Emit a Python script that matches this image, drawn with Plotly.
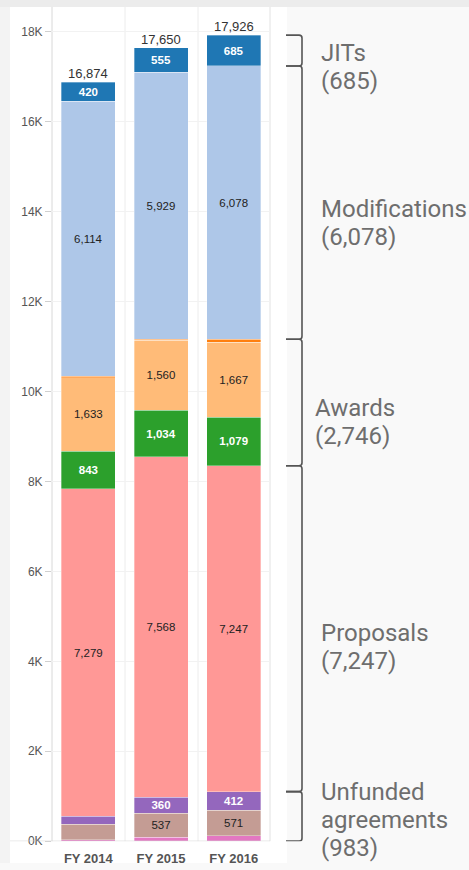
import plotly.graph_objects as go

W, H = 469, 870

years = ["FY 2014", "FY 2015", "FY 2016"]

# Stacked segments, listed bottom to top
other_pink = [30, 82, 120]
unfunded_brown = [345, 537, 571]
unfunded_purple = [180, 360, 412]
proposals = [7279, 7568, 7247]
awards_green = [843, 1034, 1079]
awards_orange = [1633, 1560, 1667]
mods_orange = [30, 25, 67]
modifications = [6114, 5929, 6078]
jits = [420, 555, 685]

y_ticks = [0, 2000, 4000, 6000, 8000, 10000, 12000, 14000, 16000, 18000]
y_tick_labels = ["0K", "2K", "4K", "6K", "8K", "10K", "12K", "14K", "16K", "18K"]

series = [
    # name, values, colour, label shown per year, label colour, bold
    ("Other", other_pink, "#e377c2", [False, False, False], "#222", False),
    ("Unfunded (b)", unfunded_brown, "#c49c94", [False, True, True], "#222", False),
    ("Unfunded (a)", unfunded_purple, "#9467bd", [False, True, True], "#ffffff", True),
    ("Proposals", proposals, "#ff9896", [True, True, True], "#222", False),
    ("Awards (a)", awards_green, "#2ca02c", [True, True, True], "#ffffff", True),
    ("Awards (b)", awards_orange, "#ffbb78", [True, True, True], "#222", False),
    ("Modifications (other)", mods_orange, "#ff7f0e", [False, False, False], "#222", False),
    ("Modifications", modifications, "#aec7e8", [True, True, True], "#222", False),
    ("JITs", jits, "#1f77b4", [True, True, True], "#ffffff", True),
]

BAR_FONT = "Liberation Sans, Arial, sans-serif"

fig = go.Figure()
for name, vals, color, show, tcolor, bold in series:
    fig.add_trace(go.Bar(
        name=name,
        x=years,
        y=vals,
        marker=dict(color=color, line=dict(width=0.6, color="rgba(255,255,255,0.55)")),
        width=0.743,
        text=[f"{v:,}" if s else "" for v, s in zip(vals, show)],
        textposition="inside",
        insidetextanchor="middle",
        textangle=0,
        constraintext="none",
        textfont=dict(family=BAR_FONT, size=11.5, color=tcolor,
                      weight="bold" if bold else "normal"),
        hoverinfo="skip",
    ))

totals = [sum(s[1][i] for s in series) for i in range(len(years))]

annotations = []
for yr, tot in zip(years, totals):
    annotations.append(dict(
        x=yr, y=tot, xref="x", yref="y", text=f"{tot:,}", showarrow=False,
        yanchor="bottom", yshift=-1,
        font=dict(family=BAR_FONT, size=13, color="#333"),
    ))

# Group brackets on the right, built from the latest year's stack
i = 2
lvl_unf = other_pink[i] + unfunded_brown[i] + unfunded_purple[i]
lvl_prop = lvl_unf + proposals[i]
lvl_awd = lvl_prop + awards_green[i] + awards_orange[i] + mods_orange[i]
lvl_mod = lvl_awd + modifications[i]
lvl_jit = lvl_mod + jits[i]

# text lines, bracket bounds, label x (px), first-line offset below bracket middle (px)
groups = [
    (["JITs", f"({jits[i]:,})"], lvl_mod, lvl_jit, 319, 2),
    (["Modifications", f"({modifications[i]:,})"], lvl_awd, lvl_mod, 319, 6),
    (["Awards", f"({awards_green[i] + awards_orange[i]:,})"], lvl_prop, lvl_awd, 313, 6),
    (["Proposals", f"({proposals[i]:,})"], lvl_unf, lvl_prop, 319, 4),
    (["Unfunded", "agreements", f"({unfunded_brown[i] + unfunded_purple[i]:,})"], 0, lvl_unf, 319, -24),
]
LINE_PX = 28

px_per_unit = 45.33 / 1000.0
r_y = 3 / px_per_unit
bx0, bx1 = 286 / W, 302 / W
r_x = 3 / W

shapes = [
    # page backgrounds
    dict(type="rect", xref="paper", yref="paper", x0=0, x1=1, y0=0, y1=1,
         fillcolor="#f9f9f9", line=dict(width=0), layer="below"),
    dict(type="rect", xref="paper", yref="paper", x0=0, x1=10 / W, y0=0, y1=1,
         fillcolor="#f3f3f3", line=dict(width=0), layer="below"),
    dict(type="rect", xref="paper", yref="paper", x0=10 / W, x1=287 / W, y0=0, y1=(H - 7) / H,
         fillcolor="#ffffff", line=dict(width=0), layer="below"),
    dict(type="rect", xref="paper", yref="paper", x0=0, x1=1, y0=(H - 7) / H, y1=1,
         fillcolor="#ececec", line=dict(width=0), layer="below"),
]

# pane separators
for px_x, col in [(52, "#d8d8d8"), (125, "#ececec"), (198, "#ececec"), (270, "#e2e2e2")]:
    shapes.append(dict(type="line", xref="paper", yref="paper",
                       x0=px_x / W, x1=px_x / W, y0=(H - 848) / H, y1=(H - 7) / H,
                       line=dict(color=col, width=1), layer="below"))
# baseline
shapes.append(dict(type="line", xref="paper", yref="y", x0=10 / W, x1=270 / W, y0=0, y1=0,
                   line=dict(color="#d6d6d6", width=1), layer="above"))

for lines, lo, hi, lx, first in groups:
    path = (f"M {bx0},{hi} L {bx1 - r_x},{hi} Q {bx1},{hi} {bx1},{hi - r_y} "
            f"L {bx1},{lo + r_y} Q {bx1},{lo} {bx1 - r_x},{lo} L {bx0},{lo}")
    shapes.append(dict(type="path", xref="paper", yref="y", path=path,
                       line=dict(color="#555555", width=1.6)))
    for k, line in enumerate(lines):
        annotations.append(dict(
            x=lx / W, xref="paper", y=(lo + hi) / 2, yref="y", text=line,
            showarrow=False, xanchor="left", yanchor="middle", align="left",
            yshift=-(first + k * LINE_PX),
            font=dict(family="Roboto, sans-serif", size=24, color="#6e6e6e"),
        ))

fig.update_layout(
    width=W, height=H, autosize=False,
    margin=dict(l=0, r=0, t=0, b=0),
    barmode="stack", bargap=0.257,
    showlegend=False,
    paper_bgcolor="#f9f9f9", plot_bgcolor="rgba(0,0,0,0)",
    shapes=shapes, annotations=annotations,
    xaxis=dict(
        domain=[52 / W, 270 / W], range=[-0.5, 2.5], type="category",
        showgrid=False, zeroline=False, showline=False,
        ticks="outside", ticklen=5, tickcolor="rgba(0,0,0,0)",
        tickfont=dict(family=BAR_FONT, size=13, color="#555", weight="bold"),
    ),
    yaxis=dict(
        domain=[(H - 848) / H, (H - 7) / H], range=[0, 841 / px_per_unit],
        tickvals=y_ticks, ticktext=y_tick_labels,
        ticks="outside", ticklen=6, tickcolor="#d0d0d0",
        showgrid=True, gridcolor="#f2f2f2", gridwidth=1,
        zeroline=False, showline=False,
        tickfont=dict(family=BAR_FONT, size=12, color="#555"),
    ),
    font=dict(family=BAR_FONT),
)

fig.write_html("out.html")
